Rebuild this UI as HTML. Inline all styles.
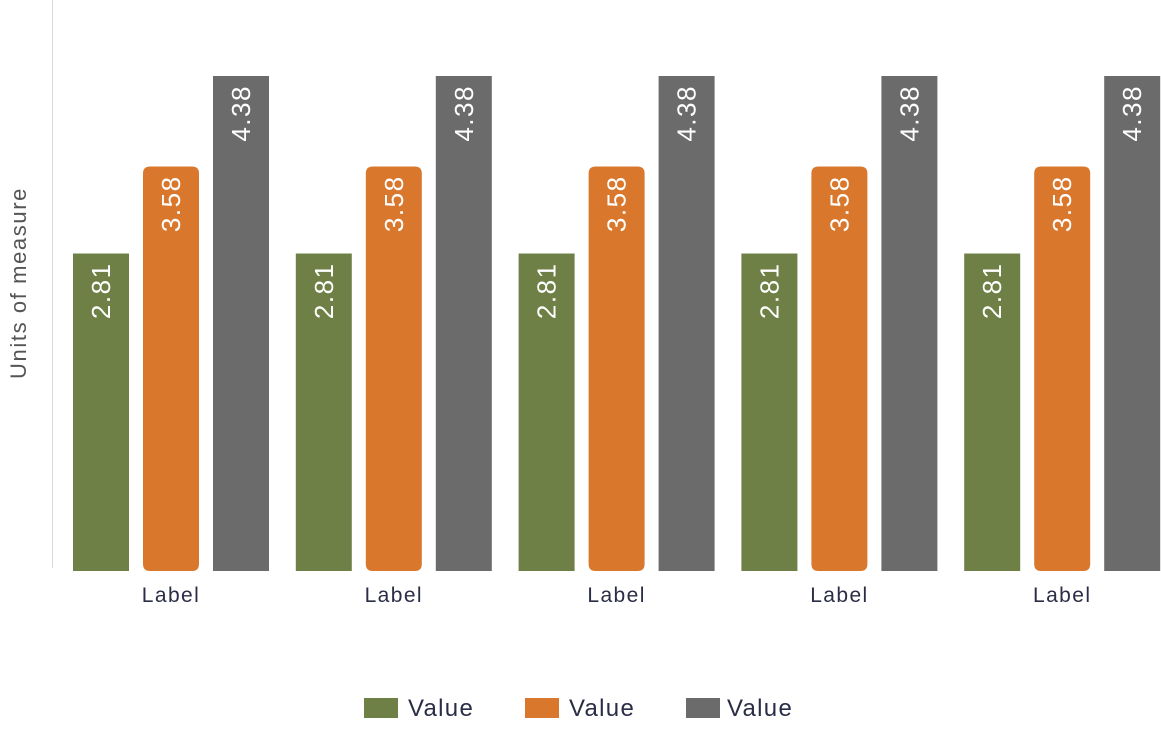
<!DOCTYPE html>
<html><head><meta charset="utf-8"><style>
body{margin:0;background:#fff;}
svg{display:block;font-family:"Liberation Sans",sans-serif;}
</style></head><body>
<svg id="chart" width="1161" height="731">
<line x1="52.5" y1="0" x2="52.5" y2="568" stroke="#d9d9d9" stroke-width="1"/>
<text transform="translate(26,283) rotate(-90)" text-anchor="middle" font-size="22" letter-spacing="1.6" fill="#555">Units of measure</text>
<g id="bars"></g>
<g font-size="24" letter-spacing="1.3" fill="#2a2d45">
<rect x="364" y="698" width="34" height="20" fill="#6e8045"/>
<text x="408" y="716">Value</text>
<rect x="525" y="698" width="34" height="20" fill="#d9782d"/>
<text x="569" y="716">Value</text>
<rect x="686" y="698" width="34" height="20" fill="#6b6b6b"/>
<text x="727" y="716">Value</text>
</g>
</svg>
<script>
const categories=["Label","Label","Label","Label","Label"];
const series1=[2.81,2.81,2.81,2.81,2.81];
const series2=[3.58,3.58,3.58,3.58,3.58];
const series3=[4.38,4.38,4.38,4.38,4.38];
const colors=["#6e8045","#d9782d","#6b6b6b"];
const baseY=571, pxPerUnit=113, groupStart=73, groupStep=222.8, barW=56, barStep=70;
function yScale(v){return baseY-v*pxPerUnit;}
const ns="http://www.w3.org/2000/svg";
const g=document.getElementById('bars');
const all=[series1,series2,series3];
categories.forEach((c,i)=>{
  const gx=groupStart+i*groupStep;
  all.forEach((s,j)=>{
    const x=gx+j*barStep, y=yScale(s[i]);
    const r=document.createElementNS(ns,'path');
    const rad=j===1?7:0;
    r.setAttribute('d',`M${x},${y+rad} Q${x},${y} ${x+rad},${y} L${x+barW-rad},${y} Q${x+barW},${y} ${x+barW},${y+rad} L${x+barW},${baseY-rad} Q${x+barW},${baseY} ${x+barW-rad},${baseY} L${x+rad},${baseY} Q${x},${baseY} ${x},${baseY-rad} Z`);
    r.setAttribute('fill',colors[j]);
    
    
    g.appendChild(r);
    const t=document.createElementNS(ns,'text');
    t.setAttribute('transform',`translate(${x+barW/2+9},${y+9}) rotate(-90)`);
    t.setAttribute('text-anchor','end');
    t.setAttribute('font-size','26');
    t.setAttribute('letter-spacing','1.5');
    t.setAttribute('fill','#fff');
    t.textContent=s[i].toFixed(2);
    
    
    g.appendChild(t);
  });
  const l=document.createElementNS(ns,'text');
  l.setAttribute('x',gx+barStep+barW/2);
  l.setAttribute('y',602);
  l.setAttribute('text-anchor','middle');
  l.setAttribute('font-size','21');
  l.setAttribute('letter-spacing','1.4');
  l.setAttribute('fill','#2a2d45');
  l.textContent=c;
  
  
  g.appendChild(l);
});
</script>
</body></html>
